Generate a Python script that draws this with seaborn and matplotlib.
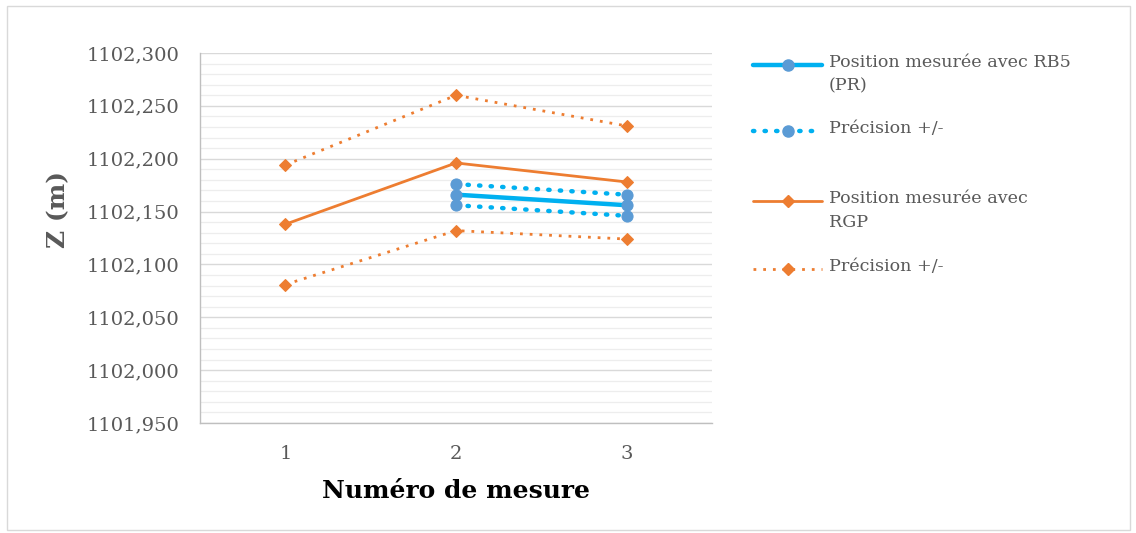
import matplotlib
matplotlib.use("Agg")
import matplotlib.pyplot as plt
from matplotlib.patches import Rectangle
from matplotlib.lines import Line2D
from matplotlib.ticker import MultipleLocator, FuncFormatter
import numpy as np
import pandas as pd
import seaborn as sns

# ---- data ----
mesures = [1, 2, 3]
rb5_pos = [np.nan, 1102.166, 1102.156]
rb5_haut = [np.nan, 1102.176, 1102.166]
rb5_bas = [np.nan, 1102.156, 1102.146]
rgp_pos = [1102.138, 1102.196, 1102.178]
rgp_haut = [1102.194, 1102.260, 1102.231]
rgp_bas = [1102.081, 1102.132, 1102.124]
y_ticks = [1101.950, 1102.000, 1102.050, 1102.100, 1102.150, 1102.200, 1102.250, 1102.300]
labels = ["Position mesurée avec RB5\n(PR)", "Précision +/-", "Position mesurée avec\nRGP", "Précision +/-"]

sns.set_theme(style="white")
plt.rcParams['font.family'] = ['DejaVu Serif', 'DejaVu Sans']

BLUE = "#00B0F0"
BLUE_M = "#5B9BD5"
ORANGE = "#ED7D31"
GRID = "#D9D9D9"
TXT = "#595959"
W, H = 1136, 533

fig = plt.figure(figsize=(W/100, H/100), dpi=100)
ax = fig.add_axes([200/W, 1-423/H, 512/W, 370/H])

df = pd.DataFrame({"x": mesures, "rb5": rb5_pos, "rb5h": rb5_haut, "rb5b": rb5_bas,
                   "rgp": rgp_pos, "rgph": rgp_haut, "rgpb": rgp_bas})

styles = [
    dict(color=BLUE, lw=3.2, marker="o", ms=8, mfc=BLUE_M, mec=BLUE_M, solid_capstyle="round"),
    dict(color=BLUE, lw=3.2, ls=(0, (0.3, 2.3)), dash_capstyle="round", marker="o", ms=8,
         mfc=BLUE_M, mec=BLUE_M),
    dict(color=ORANGE, lw=2, marker="D", ms=6, mfc=ORANGE, mec=ORANGE),
    dict(color=ORANGE, lw=2, ls=(0, (1, 2.5)), marker="D", ms=6, mfc=ORANGE, mec=ORANGE),
]

sns.lineplot(data=df, x="x", y="rb5", ax=ax, legend=False, **styles[0])
sns.lineplot(data=df, x="x", y="rb5h", ax=ax, legend=False, **styles[1])
sns.lineplot(data=df, x="x", y="rb5b", ax=ax, legend=False, **styles[1])
sns.lineplot(data=df, x="x", y="rgp", ax=ax, legend=False, **styles[2])
sns.lineplot(data=df, x="x", y="rgph", ax=ax, legend=False, **styles[3])
sns.lineplot(data=df, x="x", y="rgpb", ax=ax, legend=False, **styles[3])

ax.set_xlim(0.5, 3.5)
ax.set_ylim(y_ticks[0], y_ticks[-1])
ax.set_xticks(mesures)
ax.set_xticklabels([str(m) for m in mesures])
ax.set_yticks(y_ticks)
ax.yaxis.set_minor_locator(MultipleLocator(0.010))
ax.yaxis.set_major_formatter(FuncFormatter(lambda v, p: f"{v:.3f}".replace(".", ",")))
ax.grid(which="major", axis="y", color=GRID, lw=1)
ax.grid(which="minor", axis="y", color="#EDEDED", lw=0.9)
ax.set_axisbelow(True)
for s in ["top", "right"]:
    ax.spines[s].set_visible(False)
for s in ["left", "bottom"]:
    ax.spines[s].set_color("#BFBFBF")
    ax.spines[s].set_linewidth(1)
ax.tick_params(axis="both", which="both", length=0, labelsize=14, colors=TXT)
ax.tick_params(axis="y", pad=15)
ax.tick_params(axis="x", pad=16)
ax.set_xlabel("Numéro de mesure", fontsize=18, fontweight="bold", color="black", labelpad=11)
ax.set_ylabel("Z (m)", fontsize=18, fontweight="bold", color=TXT)
ax.yaxis.set_label_coords((70-200)/512, (423-209)/370)

# ---- legend (handles aligned with first text line, like Excel) ----
leg_y = [65, 131, 201, 269]
for lab, st, yy in zip(labels, styles, leg_y):
    line_kw = {k: v for k, v in st.items() if k not in ("marker", "ms", "mfc", "mec")}
    fig.add_artist(Line2D([753/W, 822/W], [1-yy/H, 1-yy/H], transform=fig.transFigure, **line_kw))
    fig.add_artist(Line2D([788/W], [1-yy/H], transform=fig.transFigure, ls="none",
                          marker=st["marker"], ms=st["ms"], mfc=st["mfc"], mec=st["mec"]))
    fig.text(829/W, 1-(yy-11)/H, lab, ha="left", va="top", fontsize=12.6, color=TXT,
             linespacing=1.5)

fig.patches.append(Rectangle((7/W, 3/H), 1123/W, 524/H, transform=fig.transFigure,
                             fill=False, ec="#D9D9D9", lw=1))

fig.savefig("out.png", dpi=100)
